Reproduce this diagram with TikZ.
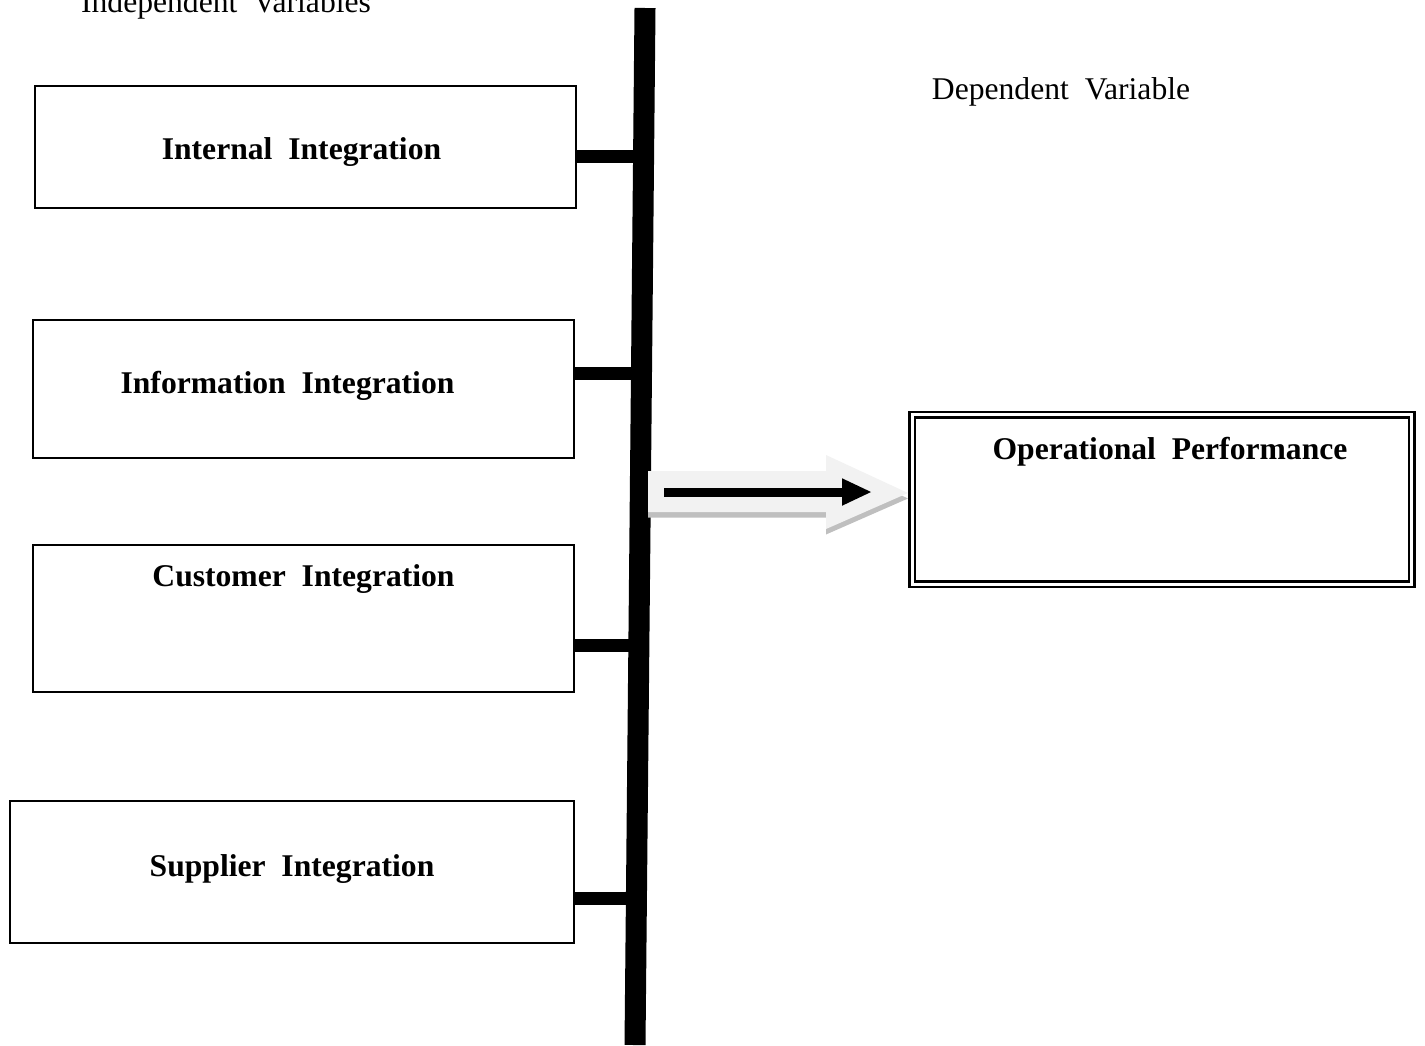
\documentclass[tikz,border=0pt]{standalone}
\usepackage{fontspec}
\setmainfont{Liberation Serif}
\usetikzlibrary{arrows.meta,calc}
\tikzset{
  var/.style={draw, line width=0.8pt, inner sep=0pt, minimum width=10.82cm},
  lbl/.style={font=\fontsize{18}{22}\selectfont, inner sep=0pt},
  head/.style={font=\fontsize{18}{22}\selectfont\bfseries, inner sep=0pt, anchor=base},
  stub/.style={line width=0.26cm},
  bar/.style={line width=0.42cm},
}

\begin{document}
\begin{tikzpicture}[x=0.02cm, y=-0.02cm]
  \useasboundingbox (0,0) rectangle (1425,1045);

  \node[lbl, anchor=base] (iv) at (226,12) {Independent~~Variables};
  \node[lbl, anchor=base] (dv) at (1061,99) {Dependent~~Variable};

  \node[var, minimum height=2.44cm,
    label={[head, xshift=-0.08cm, yshift=-1.48cm]north:Internal~~Integration}] (in) at (305.5,147) {};
  \node[var, minimum height=2.76cm,
    label={[head, xshift=-0.32cm, yshift=-1.48cm]north:Information~~Integration}] (info) at (303.5,389) {};
  \node[var, minimum height=2.94cm,
    label={[head, yshift=-0.84cm]north:Customer~~Integration}] (cust) at (303.5,618.5) {};
  \node[var, minimum width=11.28cm, minimum height=2.84cm,
    label={[head, yshift=-1.52cm]north:Supplier~~Integration}] (sup) at (292,872) {};

  \node[var, double, double distance=0.06cm, line width=0.05cm,
    minimum width=10cm, minimum height=3.4cm,
    label={[head, xshift=0.16cm, yshift=-0.92cm]north:Operational~~Performance}] (perf) at (1162,499.5) {};

  % the bar joining the four variables
  \coordinate (top) at (645,8);
  \coordinate (bot) at (635,1045);
  \draw[bar] (top) -- (bot);

  \coordinate (j1) at ($(top)!0.143!(bot)$);
  \coordinate (j2) at ($(top)!0.352!(bot)$);
  \coordinate (j3) at ($(top)!0.615!(bot)$);
  \coordinate (j4) at ($(top)!0.859!(bot)$);
  \draw[stub] (j1 -| in.east) -- (j1);
  \draw[stub] (j2 -| info.east) -- (j2);
  \draw[stub] (j3 -| cust.east) -- (j3);
  \draw[stub] (j4 -| sup.east) -- (j4);

  % block arrow with its shadow
  \foreach \c/\s in {black!25/-0.11cm, black!5/0cm}
    \fill[\c, yshift=\s] (648,471) -- (826,471) -- (826,455) -- (908,493)
      -- (826,529) -- (826,512) -- (648,512) -- cycle;

  \coordinate (a0) at (664,492);
  \coordinate (a1) at (872,492);
  \draw[line width=0.18cm, -{Triangle[length=0.6cm, width=0.5cm]}] (a0) -- (a1);
\end{tikzpicture}
\end{document}
